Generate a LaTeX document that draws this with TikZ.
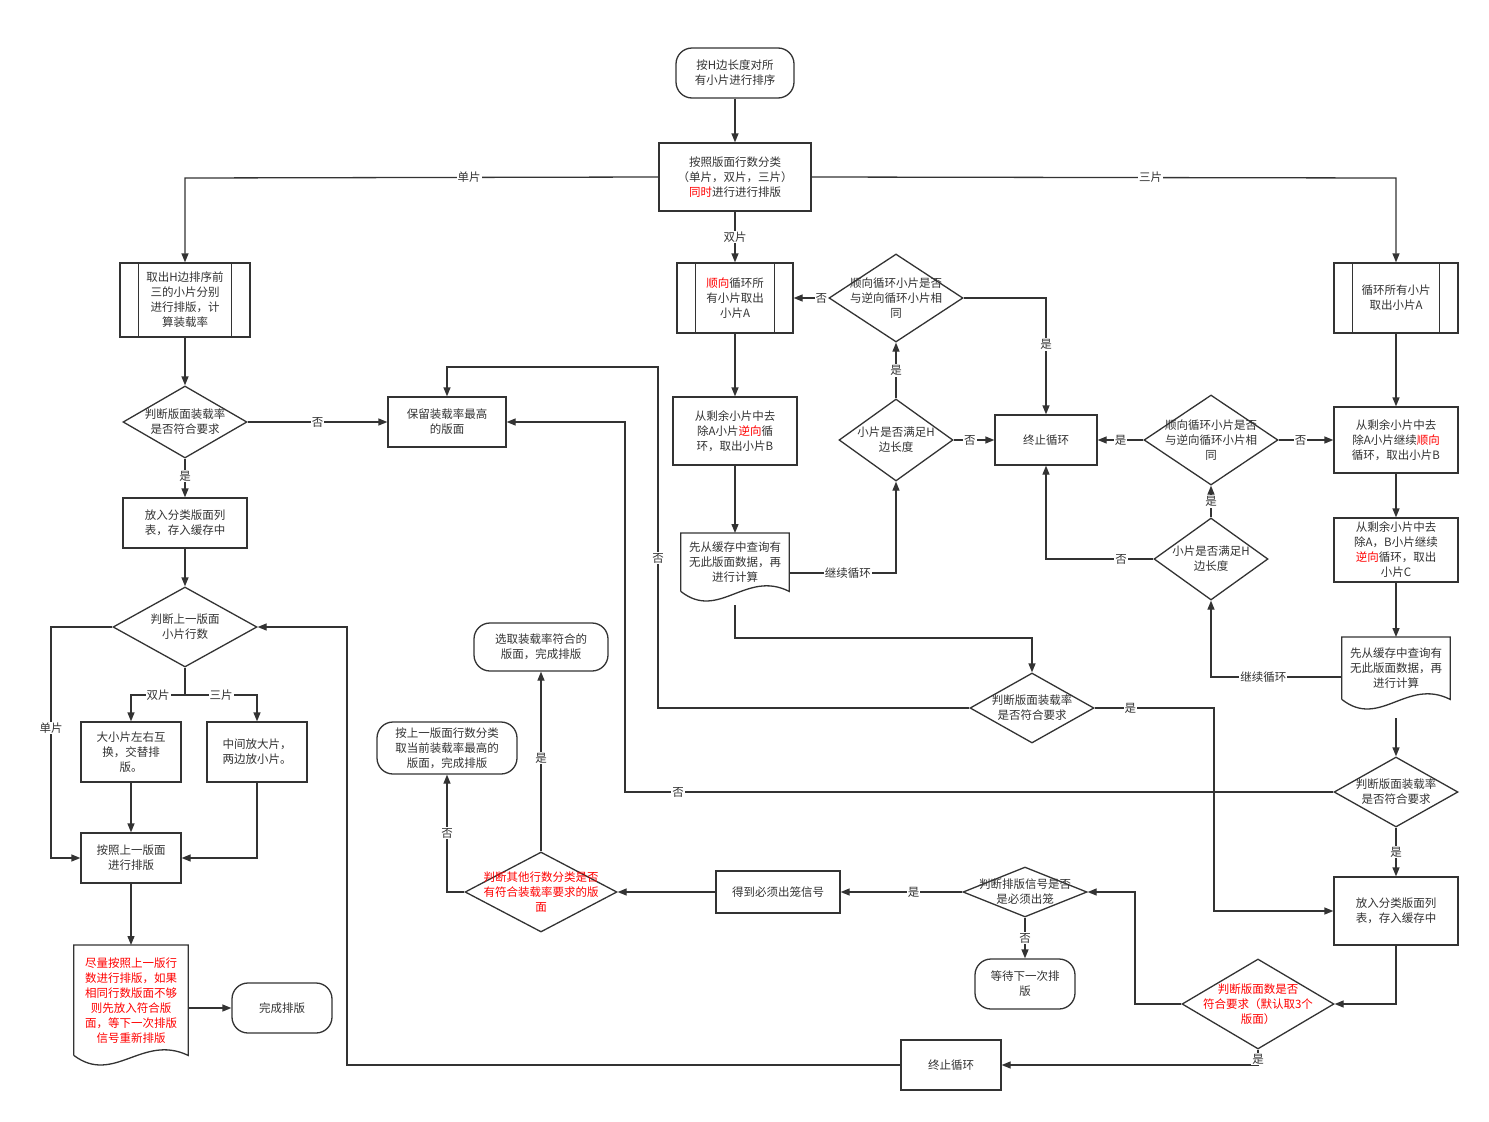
\documentclass[tikz,border=0pt]{standalone}
\usepackage{fontspec}
\setmainfont{Noto Sans CJK SC}
\usepackage{tikz}
\usetikzlibrary{calc, arrows.meta, shapes.geometric}

\newcommand{\hl}[1]{\textcolor{red}{#1}}
\definecolor{ink}{HTML}{333333}
\tikzset{
    every node/.style={font=\fontsize{11.5}{15}\selectfont, text=ink},
    box/.style={draw=ink, line width=1.3pt, rectangle, align=center, inner sep=1pt},
    term/.style={box, rounded corners=16pt},
    dec/.style={draw=ink, line width=1.3pt, diamond, inner sep=0pt},
    txt/.style={align=center, inner sep=0pt},
    lbl/.style={fill=white, inner sep=1pt},
    arr/.style={draw=ink, line width=1.3pt, arrows={-{Triangle[length=9pt, width=7pt]}}},
    ln/.style={draw=ink, line width=1.3pt}
}
\newcommand{\predef}[1]{
    \draw [ln] ($(#1.north west)+(19,0)$) -- ($(#1.south west)+(19,0)$);
    \draw [ln] ($(#1.north east)+(-19,0)$) -- ($(#1.south east)+(-19,0)$);
}
\newcommand{\wavy}[1]{
    \draw [ln] (#1.south west) -- (#1.north west) -- (#1.north east) -- (#1.south east)
        .. controls ($(#1.south east)!0.4!(#1.south west)+(0,-22)$) and ($(#1.south east)!0.65!(#1.south west)+(0,30)$) .. (#1.south west);
}

\begin{document}
\begin{tikzpicture}[x=1pt, y=-1pt]
    \useasboundingbox [fill=white] (0,0) rectangle (1489,1122);
    % top
    \node [term, minimum width=118, minimum height=50] (start) at (735,73) {按H边长度对所\\有小片进行排序};
    \node [box, minimum width=152, minimum height=68] (sort) at (735,177) {按照版面行数分类\\（单片，双片，三片）\\\hl{同时}进行进行排版};
    % single
    \node [box, minimum width=130, minimum height=74] (single) at (185,300) {取出H边排序前\\三的小片分别\\进行排版，计\\算装载率};
    \predef{single}
    \node [dec, minimum width=124, minimum height=72] (rateA) at (185,422) {};
    \node [txt] at (rateA) {判断版面装载率\\是否符合要求};
    \node [box, minimum width=118, minimum height=50] (keep) at (447,422) {保留装载率最高\\的版面};
    \node [box, minimum width=124, minimum height=50] (storeA) at (185,523) {放入分类版面列\\表，存入缓存中};
    \node [dec, minimum width=144, minimum height=80] (rows) at (185,627) {};
    \node [txt] at (rows) {判断上一版面\\小片行数};
    \node [box, minimum width=100, minimum height=60] (swap) at (131,752) {大小片左右互\\换，交替排\\版。};
    \node [box, minimum width=100, minimum height=60] (mid) at (257,752) {中间放大片，\\两边放小片。};
    \node [box, minimum width=100, minimum height=50] (follow) at (131,858) {按照上一版面\\进行排版};
    \node [txt, minimum width=114, minimum height=110, anchor=north] (tryprev) at (131,945) {\hl{尽量按照上一版行}\\\hl{数进行排版，如果}\\\hl{相同行数版面不够}\\\hl{则先放入符合版}\\\hl{面，等下一次排版}\\\hl{信号重新排版}};
    \wavy{tryprev}
    \node [term, minimum width=100, minimum height=50] (done) at (282,1008) {完成排版};
    % middle bottom
    \node [term, minimum width=134, minimum height=48] (pick) at (541,647) {选取装载率符合的\\版面，完成排版};
    \node [term, minimum width=140, minimum height=52] (best) at (447,748) {按上一版面行数分类\\取当前装载率最高的\\版面，完成排版};
    \node [dec, minimum width=152, minimum height=80] (other) at (541,892) {};
    \node [txt] at (other) {\hl{判断其他行数分类是否}\\\hl{有符合装载率要求的版}\\\hl{面}};
    \node [box, minimum width=124, minimum height=42] (signal) at (778,892) {得到必须出笼信号};
    \node [dec, minimum width=124, minimum height=50] (must) at (1025,892) {};
    \node [txt] at (must) {判断排版信号是否\\是必须出笼};
    \node [term, minimum width=100, minimum height=50] (wait) at (1025,984) {等待下一次排\\版};
    \node [box, minimum width=100, minimum height=50] (stopB) at (951,1065) {终止循环};
    \node [dec, minimum width=152, minimum height=90] (count) at (1258,1004) {};
    \node [txt] at (count) {\hl{判断版面数是否}\\\hl{符合要求（默认取3个}\\\hl{版面）}};
    % double
    \node [box, minimum width=116, minimum height=70] (dbl) at (735,298) {\hl{顺向}循环所\\有小片取出\\小片A};
    \predef{dbl}
    \node [box, minimum width=124, minimum height=68] (dblB) at (735,431) {从剩余小片中去\\除A小片\hl{逆向}循\\环，取出小片B};
    \node [txt, minimum width=108, minimum height=58, anchor=north] (dblCache) at (735,533) {先从缓存中查询有\\无此版面数据，再\\进行计算};
    \wavy{dblCache}
    \node [dec, minimum width=114, minimum height=82] (dblH) at (896,440) {};
    \node [txt] at (dblH) {小片是否满足H\\边长度};
    \node [dec, minimum width=134, minimum height=88] (dblSame) at (896,298) {};
    \node [txt] at (dblSame) {顺向循环小片是否\\与逆向循环小片相\\同};
    \node [box, minimum width=102, minimum height=50] (stopA) at (1046,440) {终止循环};
    \node [dec, minimum width=124, minimum height=70] (rateB) at (1032,708) {};
    \node [txt] at (rateB) {判断版面装载率\\是否符合要求};
    % triple
    \node [box, minimum width=124, minimum height=70] (tri) at (1396,298) {循环所有小片\\取出小片A};
    \predef{tri}
    \node [box, minimum width=124, minimum height=66] (triB) at (1396,440) {从剩余小片中去\\除A小片继续\hl{顺向}\\循环，取出小片B};
    \node [box, minimum width=124, minimum height=64] (triC) at (1396,550) {从剩余小片中去\\除A，B小片继续\\\hl{逆向}循环，取出\\小片C};
    \node [txt, minimum width=108, minimum height=62, anchor=north] (triCache) at (1396,637) {先从缓存中查询有\\无此版面数据，再\\进行计算};
    \wavy{triCache}
    \node [dec, minimum width=114, minimum height=82] (triH) at (1211,559) {};
    \node [txt] at (triH) {小片是否满足H\\边长度};
    \node [dec, minimum width=134, minimum height=90] (triSame) at (1211,440) {};
    \node [txt] at (triSame) {顺向循环小片是否\\与逆向循环小片相\\同};
    \node [dec, minimum width=124, minimum height=70] (rateC) at (1396,792) {};
    \node [txt] at (rateC) {判断版面装载率\\是否符合要求};
    \node [box, minimum width=124, minimum height=68] (storeC) at (1396,911) {放入分类版面列\\表，存入缓存中};
    % connectors
    \path [arr] (start) -- (sort);
    \path [arr] (sort.west) -- node [lbl, pos=0.4] {单片} (185,178) -- (single.north);
    \path [arr] (sort.east) -- node [lbl, pos=0.58] {三片} (1396,178) -- (tri.north);
    \path [arr] (sort) -- node [lbl] {双片} (dbl);
    \path [arr] (single) -- (rateA);
    \path [arr] (rateA) -- node [lbl] {否} (keep);
    \path [arr] (rateA) -- node [lbl, pos=0.45] {是} (storeA);
    \path [arr] (storeA) -- (rows);
    \path [arr] (rows.west) -| (51,728) node [lbl] {单片} |- (follow.west);
    \path [ln] (rows.south) -- (185,695);
    \path [arr] (185,695) -- node [lbl] {双片} (131,695) -- (swap.north);
    \path [arr] (185,695) -- node [lbl] {三片} (257,695) -- (mid.north);
    \path [arr] (swap) -- (follow);
    \path [arr] (mid.south) |- (follow.east);
    \path [arr] (follow) -- (tryprev);
    \path [arr] (tryprev.east |- done) -- (done);
    \path [arr] (dbl) -- (dblB);
    \path [arr] (dblB) -- (dblCache);
    \path [arr] (dblCache.east |- 0,573) -- node [lbl, pos=0.55] {继续循环} (896,573) -- (dblH.south);
    \path [arr] (dblH) -- node [lbl] {是} (dblSame);
    \path [arr] (dblH) -- node [lbl, pos=0.4] {否} (stopA);
    \path [arr] (dblSame) -- node [lbl, pos=0.2] {否} (dbl);
    \path [arr] (dblSame.east) -| node [lbl, pos=0.7] {是} (stopA.north);
    \path [arr] (735,605) -- (735,638) -| (rateB.north);
    \path [arr] (rateB.west) -| node [lbl, pos=0.72] {否} (658,367) -| (keep.north);
    \path [arr] (rateB.east) -| node [lbl, pos=0.15] {是} (1214,911) -- (storeC.west);
    \path [arr] (tri) -- (triB);
    \path [arr] (triB) -- (triC);
    \path [arr] (triC) -- (triCache);
    \path [arr] (1396,718) -- (rateC);
    \path [arr] (triCache.west |- 0,677) -| node [lbl, pos=0.3] {继续循环} (triH.south);
    \path [arr] (triH) -- node [lbl] {是} (triSame);
    \path [arr] (triH.west) -| node [lbl, pos=0.15] {否} (stopA.south);
    \path [arr] (triSame) -- node [lbl, pos=0.4] {否} (triB);
    \path [arr] (triSame) -- node [lbl, pos=0.5] {是} (stopA);
    \path [arr] (rateC.west) -- node [lbl, pos=0.925] {否} (625,792) -- (625,422) -- (keep.east);
    \path [arr] (rateC) -- node [lbl, pos=0.5] {是} (storeC);
    \path [arr] (storeC.south) |- (count.east);
    \path [arr] (count.west) -| (1135,892) -- (must.east);
    \path [arr] (count.south) |- node [lbl, pos=0.3] {是} (stopB.east);
    \path [arr] (must) -- node [lbl, pos=0.4] {是} (signal);
    \path [arr] (must) -- node [lbl, pos=0.5] {否} (wait);
    \path [arr] (signal) -- (other);
    \path [arr] (other) -- node [lbl, pos=0.52] {是} (pick);
    \path [arr] (other.west) -| node [lbl, pos=0.75] {否} (best.south);
    \path [arr] (stopB.west) -| (347,627) -- (rows.east);
\end{tikzpicture}
\end{document}
